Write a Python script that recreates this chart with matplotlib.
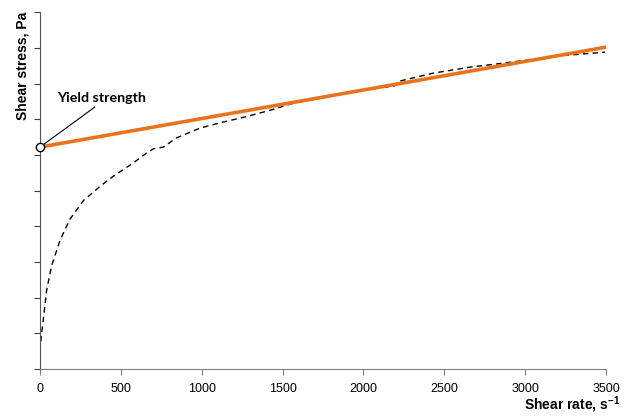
import numpy as np
import matplotlib.pyplot as plt

plt.rcParams['font.family'] = 'sans-serif'
plt.rcParams['font.sans-serif'] = ['Liberation Sans', 'DejaVu Sans']
plt.rcParams['mathtext.fontset'] = 'custom'
plt.rcParams['mathtext.rm'] = 'Liberation Sans'
plt.rcParams['mathtext.bf'] = 'Liberation Sans:bold'

# measured flow curve
rate = [0, 4, 10, 17, 41, 72, 124, 185, 268, 371, 452, 575, 661, 700, 762,
        845, 989, 1113, 1255, 1422, 1565, 1775, 1917, 2190, 2215, 2430, 2659,
        2863, 3197, 3494]
stress = [0.5, 0.75, 1.0, 1.25, 2.21, 2.9, 3.61, 4.2, 4.72, 5.12, 5.4,
          5.77, 6.06, 6.17, 6.22, 6.48, 6.75, 6.9, 7.05, 7.25, 7.45, 7.62,
          7.77, 7.93, 8.06, 8.29, 8.46, 8.57, 8.77, 8.88]

# Bingham fit: tau = tau0 + mu * rate
tau0 = 6.22
mu = 0.0008
fit_rate = [0, 3500]

fig = plt.figure(figsize=(6.3, 4.19), dpi=100)
ax = fig.add_axes([0.0635, 0.119, 0.8985, 0.852])

ax.plot(rate, stress, color='black', lw=1.0, ls=(0, (4, 3)), zorder=2)
fit = tau0 + mu * np.array(fit_rate)
ax.plot(fit_rate, fit, color='#E8731A', lw=2.6, solid_capstyle='butt', zorder=3)
ax.plot([0], [tau0], 'o', ms=6, mfc='white', mec='black', mew=1.0,
        zorder=4, clip_on=False)

ax.annotate('Yield strength', xy=(0, tau0), xytext=(105, 7.59),
            fontsize=10.3, fontweight='bold', family=['Lato', 'DejaVu Sans'],
            ha='left', va='center',
            arrowprops=dict(arrowstyle='-', color='black', lw=0.8,
                            shrinkA=0, shrinkB=3, relpos=(0.47, 0)))

ax.set_xlim(0, 3500)
ax.set_ylim(0, 10)
ax.set_xticks(np.arange(0, 3501, 500))
ax.set_yticks(np.arange(0, 10.1, 1))
ax.set_yticklabels([])
ax.tick_params(axis='x', labelsize=9, direction='out', length=4, color='#7f7f7f', pad=6)
ax.tick_params(axis='y', direction='out', length=4, color='#404040')
for s in ['top', 'right']:
    ax.spines[s].set_visible(False)
ax.spines['left'].set_color('#555555')
ax.spines['bottom'].set_color('#7f7f7f')

fig.text(0.036, 0.971, 'Shear stress, Pa', rotation=90, ha='center', va='top',
         fontsize=10, fontweight='bold')
fig.text(0.984, 0.01, r'Shear rate, s$^{\mathbf{-1}}$', ha='right', va='bottom',
         fontsize=10, fontweight='bold')

fig.savefig('out.png', dpi=100)
